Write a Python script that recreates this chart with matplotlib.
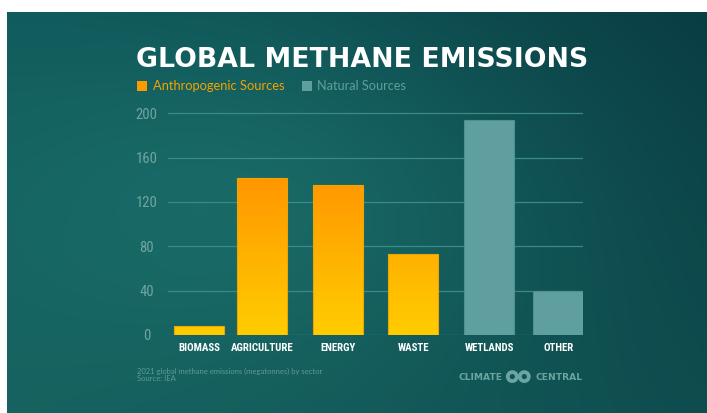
import numpy as np
import matplotlib
matplotlib.use("Agg")
import matplotlib.pyplot as plt
from matplotlib.colors import LinearSegmentedColormap
from matplotlib.patches import Rectangle, Circle
from matplotlib import font_manager

# ---- data (megatonnes of methane, 2021) ----
categories = ["BIOMASS", "AGRICULTURE", "ENERGY", "WASTE", "WETLANDS", "OTHER"]
emissions = [8, 142, 135, 73, 194, 40]
source_type = ["anthro", "anthro", "anthro", "anthro", "natural", "natural"]
y_ticks = [0, 40, 80, 120, 160, 200]
y_tick_labels = ["0", "40", "80", "120", "160", "200"]

# ---- layout (pixel-based) ----
W, H = 707, 413
bar_centers = [31, 94, 169.7, 245.3, 321, 390.3]   # offsets from plot left edge
bar_width = 50
plot_left, plot_right = 168, 583
y_zero_px, px_per_unit = 335, 1.1085
y_max = 202

ORANGE_TOP = "#ff9500"
YELLOW_BOT = "#ffcd00"
NATURAL = "#5f9fa0"
NATURAL_EDGE = "#4e8f8f"
GRID = "#3c8a86"
TICK_COL = "#6fa6a3"
FOOT_COL = "#5d9a97"

# narrow face for axis labels, if one is available
names = {f.name for f in font_manager.fontManager.ttflist}
NARROW = {"family": "DejaVu Sans", "stretch": "condensed"}
for cand in ["Liberation Sans Narrow", "Roboto Condensed", "Open Sans Condensed"]:
    if cand in names:
        NARROW = {"family": cand}
        break

fig = plt.figure(figsize=(W / 100, H / 100), dpi=100)
fig.patch.set_facecolor("white")

# ---- background panel (pixel coordinates, y down) ----
bg = fig.add_axes([0, 0, 1, 1], zorder=0)
bg.set_xlim(0, W)
bg.set_ylim(H, 0)
bg.axis("off")

gx0, gx1, gy0, gy1 = 7, 707, 12, 413
nx, ny = 350, 200
u = np.linspace(0, 1, nx)[None, :]
v = np.linspace(0, 1, ny)[:, None]
tl = np.array([15, 88, 89])
tr = np.array([9, 60, 67])
bl = np.array([21, 96, 94])
br = np.array([14, 76, 78])
base = ((1 - u)[..., None] * (1 - v)[..., None] * tl + u[..., None] * (1 - v)[..., None] * tr
        + (1 - u)[..., None] * v[..., None] * bl + u[..., None] * v[..., None] * br)
bump = np.exp(-(((u - 0.38) / 0.30) ** 2 + ((v - 0.45) / 0.33) ** 2) / 2)[..., None]
img = base + bump * np.array([9, 22, 18])
img = np.clip(img / 255.0, 0, 1)
bg.imshow(img, extent=(gx0, gx1, gy1, gy0), aspect="auto", interpolation="bilinear", zorder=0)

# ---- title & legend ----
bg.text(136, 67, "GLOBAL METHANE EMISSIONS", fontsize=19.3, family="DejaVu Sans",
        weight="bold", color="white", va="baseline", ha="left")
bg.add_patch(Rectangle((137, 80.7), 10, 10, facecolor="#ff9900", edgecolor="none", zorder=2))
bg.text(153, 90.3, "Anthropogenic Sources", fontsize=9.3, family="Lato",
        color="#f4a400", va="baseline", ha="left")
bg.add_patch(Rectangle((301.5, 80.7), 10, 10, facecolor="#5f9fa0", edgecolor="none", zorder=2))
bg.text(317, 90.3, "Natural Sources", fontsize=9.2, family="Lato",
        color="#5f9e9d", va="baseline", ha="left")

# ---- footer ----
bg.text(137, 371.7, "2021 global methane emissions (megatonnes) by sector", fontsize=5.5,
        family="Lato", color=FOOT_COL, va="center", ha="left")
bg.text(137, 378.6, "Source: IEA", fontsize=5.5, family="Lato", color=FOOT_COL,
        va="center", ha="left")

LOGO = "#6ba5a2"
bg.text(502.5, 377.6, "CLIMATE", fontsize=6.6, family="DejaVu Sans", weight="bold",
        color=LOGO, va="center", ha="right")
bg.text(535, 377.6, "CENTRAL", fontsize=6.6, family="DejaVu Sans", weight="bold",
        color=LOGO, va="center", ha="left")
for cx in (512.3, 524.3):
    bg.add_patch(Circle((cx, 376.6), 4.5, facecolor="none", edgecolor=LOGO, linewidth=2.7))

# ---- chart axes ----
ax_h_px = y_max * px_per_unit
ax = fig.add_axes([plot_left / W, (H - y_zero_px) / H,
                   (plot_right - plot_left) / W, ax_h_px / H], zorder=1)
ax.patch.set_alpha(0)
for s in ax.spines.values():
    s.set_visible(False)

xlim = (0, plot_right - plot_left)
for t in y_ticks:
    ax.axhline(t, color=GRID, linewidth=0.9, zorder=1)

grad_cmap = LinearSegmentedColormap.from_list("anthro", [YELLOW_BOT, ORANGE_TOP])
gradient = np.linspace(0, 1, 256).reshape(-1, 1)

for xc, val, kind in zip(bar_centers, emissions, source_type):
    if kind == "anthro":
        bar = ax.bar(xc, val, width=bar_width, color="none", edgecolor="none", zorder=2)[0]
        im = ax.imshow(gradient, cmap=grad_cmap, origin="lower", aspect="auto",
                       extent=(xlim[0], xlim[1], 0, 145), zorder=2)
        im.set_clip_path(bar)
        ax.bar(xc, val, width=bar_width, color="none", edgecolor="#f0a400",
               linewidth=0.8, zorder=3)
    else:
        ax.bar(xc, val, width=bar_width, color=NATURAL, edgecolor=NATURAL_EDGE,
               linewidth=0.8, zorder=2)

ax.set_xlim(*xlim)
ax.set_ylim(0, y_max)

ax.set_yticks(y_ticks)
ax.set_yticklabels(y_tick_labels, fontsize=10.5, color=TICK_COL, **NARROW)
for lab in ax.get_yticklabels():
    lab.set_ha("center")
ax.tick_params(axis="y", length=0, pad=15.5)

ax.set_xticks(bar_centers)
ax.set_xticklabels(categories, weight="bold", fontsize=7.8, color="white", **NARROW)
ax.tick_params(axis="x", length=0, pad=5.5)

fig.savefig("out.png", dpi=100, facecolor="white")
